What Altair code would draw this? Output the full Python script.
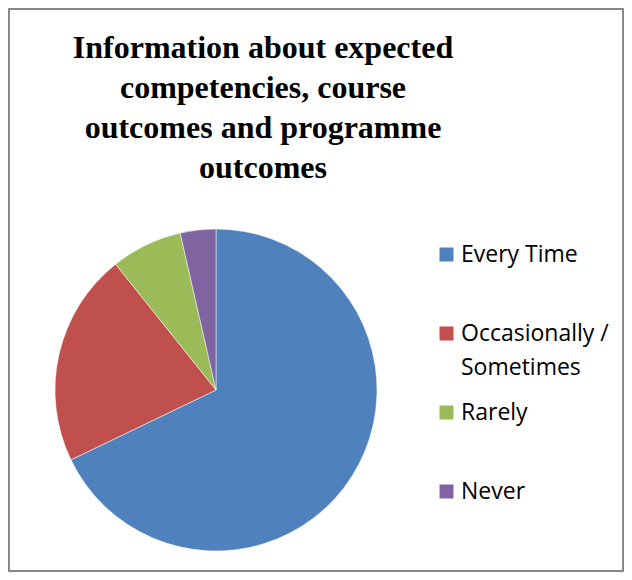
import altair as alt
import pandas as pd

categories = ["Every Time", "Occasionally / Sometimes", "Rarely", "Never"]
values = [19, 6, 2, 1]
colors = ["#4F81BD", "#C0504D", "#9BBB59", "#8064A2"]
title_lines = [
    "Information about expected",
    "competencies, course",
    "outcomes and programme",
    "outcomes",
]

df = pd.DataFrame({"category": categories, "value": values, "order": list(range(len(categories)))})

W, H = 614, 562

label_expr = (
    "datum.label == 'Occasionally / Sometimes' ? ['Occasionally /', 'Sometimes'] "
    ": [datum.label, '']"
)

chart = (
    alt.Chart(df)
    .mark_arc(stroke="white", strokeWidth=0.5)
    .encode(
        theta=alt.Theta("value:Q", stack=True),
        order=alt.Order("order:Q"),
        color=alt.Color(
            "category:N",
            sort=categories,
            scale=alt.Scale(domain=categories, range=colors),
            legend=alt.Legend(
                title=None,
                orient="none",
                legendX=426,
                legendY=234,
                symbolType="square",
                symbolSize=196,
                symbolStrokeWidth=0,
                labelFont="Open Sans",
                labelFontSize=23,
                labelColor="#000000",
                labelLimit=300,
                labelOffset=3,
                labelExpr=label_expr,
                rowPadding=21,
                padding=0,
            ),
        ),
        x=alt.value(207),
        y=alt.value(381),
        radius=alt.value(161),
    )
    .properties(
        width=W,
        height=H,
        padding=1,
        autosize=alt.AutoSizeParams(type="none"),
        title=alt.TitleParams(
            text=title_lines,
            font="Liberation Serif",
            fontSize=32,
            fontWeight="bold",
            lineHeight=40,
            color="#000000",
            anchor="middle",
            dx=-53,
            offset=-176,
        ),
    )
    .configure(
        view=alt.ViewConfig(stroke="#888888", strokeWidth=2),
        style={"guide-label": {"lineHeight": 34}},
    )
)

chart.save("out.html", embed_options={"renderer": "svg", "actions": False})
